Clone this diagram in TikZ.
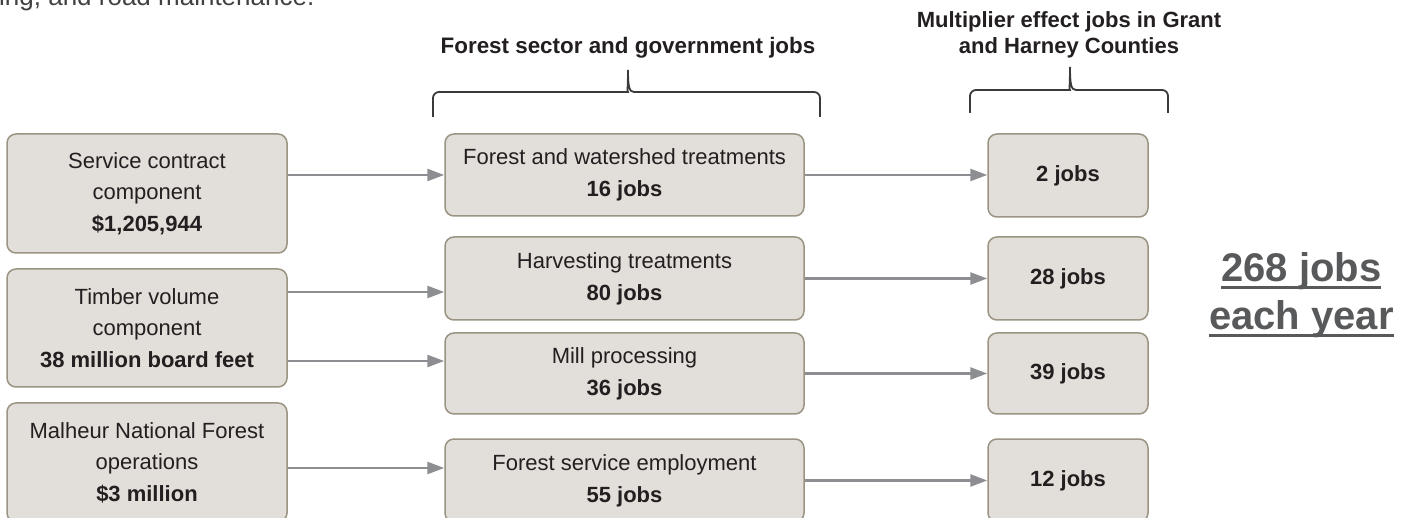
\documentclass[tikz,border=0pt]{standalone}
\usepackage{fontspec}
\setmainfont{Liberation Sans}
\usetikzlibrary{arrows.meta}
\definecolor{boxfill}{HTML}{E2DED9}
\definecolor{boxline}{HTML}{9B9483}
\definecolor{arrowc}{HTML}{8D8E92}
\definecolor{textc}{HTML}{231F20}
\definecolor{bigc}{HTML}{58595B}
\definecolor{bracec}{HTML}{3A3A3A}
\definecolor{topc}{HTML}{414042}
\begin{document}
\begin{tikzpicture}[x=1pt,y=-1pt,
  box/.style={draw=boxline, fill=boxfill, rounded corners=9pt, line width=1.5pt, align=center, inner sep=0pt, text=textc, font=\fontsize{22}{31}\selectfont},
  conn/.style={draw=arrowc, line width=2.5pt, -{Triangle[length=17pt,width=12pt]}},
  brace/.style={draw=bracec, line width=1.8pt},
  head/.style={text=textc, font=\bfseries\fontsize{22.4}{26}\selectfont, align=center, inner sep=0pt},
  big/.style={anchor=base west, inner sep=0pt, text=bigc, font=\bfseries\fontsize{40}{48}\selectfont}]
\useasboundingbox (0,0) rectangle (1411,518);
\clip (0,0) rectangle (1411,518);

% top partial text
\node[anchor=base west, inner sep=0pt, text=topc, font=\fontsize{26}{30}\selectfont] (top) at (-1,6) {ing, and road maintenance.};

% headings
\node[head] (h1) at (628,48) {Forest sector and government jobs};
\node[head, font=\bfseries\fontsize{22}{26}\selectfont] (h2) at (1069,35) {Multiplier effect jobs in Grant\\and Harney Counties};

% braces
\draw[brace] (433,117) [rounded corners=6pt] |- (622,92) [sharp corners]
  .. controls (627,92) and (628,86) .. (628,70)
  .. controls (628,86) and (629,92) .. (634,92) [rounded corners=6pt] -| (820,117);
\draw[brace] (970,113) [rounded corners=6pt] |- (1064,90) [sharp corners]
  .. controls (1069,90) and (1070,84) .. (1070,67)
  .. controls (1070,84) and (1071,90) .. (1076,90) [rounded corners=6pt] -| (1168,113);

% left boxes
\node[box, minimum width=280pt, minimum height=119pt] (L1) at (147,193.5) {\raisebox{4pt}{\begin{tabular}{@{}c@{}}Service contract\\component\\[1pt]\textbf{\$1,205,944}\end{tabular}}};
\node[box, minimum width=280pt, minimum height=118pt] (L2) at (147,328) {Timber volume\\component\\[1pt]\textbf{38 million board feet}};
\node[box, minimum width=280pt, minimum height=119pt] (L3) at (147,462.5) {Malheur National Forest\\operations\\[1pt]\textbf{\$3 million}};

% middle boxes
\node[box, minimum width=359pt, minimum height=82pt] (M1) at (624.5,175) {Forest and watershed treatments\\[1pt]\textbf{16 jobs}};
\node[box, minimum width=359pt, minimum height=83pt] (M2) at (624.5,278.5) {Harvesting treatments\\[1pt]\textbf{80 jobs}};
\node[box, minimum width=359pt, minimum height=81pt] (M3) at (624.5,373.5) {Mill processing\\[1pt]\textbf{36 jobs}};
\node[box, minimum width=359pt, minimum height=83pt] (M4) at (624.5,480.5) {Forest service employment\\[1pt]\textbf{55 jobs}};

% right boxes
\node[box, minimum width=160pt, minimum height=83pt] (R1) at (1068,175.5) {\textbf{2 jobs}};
\node[box, minimum width=160pt, minimum height=83pt] (R2) at (1068,278.5) {\textbf{28 jobs}};
\node[box, minimum width=160pt, minimum height=81pt] (R3) at (1068,373.5) {\textbf{39 jobs}};
\node[box, minimum width=160pt, minimum height=83pt] (R4) at (1068,480.5) {\textbf{12 jobs}};

% connectors
\coordinate (a2) at ([yshift=-13.5pt]M2.west);
\coordinate (a3) at ([yshift=12.5pt]M3.west);
\coordinate (a4) at ([yshift=12.5pt]M4.west);
\draw[conn] (L1.east |- M1.west) -- (M1.west);
\draw[conn] (L2.east |- a2) -- (a2);
\draw[conn] (L2.east |- a3) -- (a3);
\draw[conn] (L3.east |- a4) -- (a4);
\draw[conn] (M1.east) -- (M1.east -| R1.west);
\draw[conn] (M2.east) -- (M2.east -| R2.west);
\draw[conn] (M3.east) -- (M3.east -| R3.west);
\draw[conn] (M4.east) -- (M4.east -| R4.west);

% total
\node[big] (t1) at (1221,282) {268 jobs\ };
\node[big] (t2) at (1209,330) {each year};
\draw[bigc, line width=3pt] ([yshift=-6pt]t1.base west) -- ([yshift=-6pt]t1.base east);
\draw[bigc, line width=3pt] ([yshift=-6pt]t2.base west) -- ([yshift=-6pt]t2.base east);
\end{tikzpicture}
\end{document}
